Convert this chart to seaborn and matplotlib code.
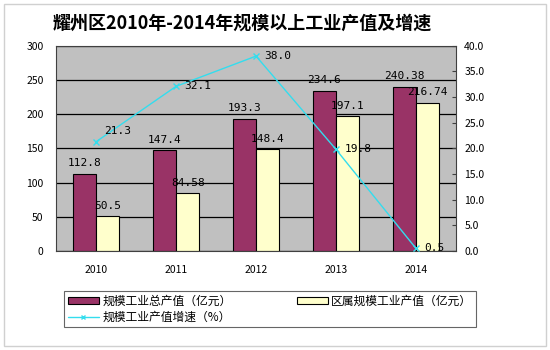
import pandas as pd
import numpy as np
import matplotlib
matplotlib.use('Agg')
import matplotlib.pyplot as plt
import seaborn as sns
from matplotlib.patches import Rectangle
from matplotlib.lines import Line2D

# data
years = ['2010', '2011', '2012', '2013', '2014']
total_output = [112.8, 147.4, 193.3, 234.6, 240.38]
district_output = [50.5, 84.58, 148.4, 197.1, 216.74]
growth_rate = [21.3, 32.1, 38.0, 19.8, 0.5]
total_labels = ['112.8', '147.4', '193.3', '234.6', '240.38']
district_labels = ['50.5', '84.58', '148.4', '197.1', '216.74']
growth_labels = ['21.3', '32.1', '38.0', '19.8', '0.5']

s_total = '规模工业总产值（亿元）'
s_district = '区属规模工业产值（亿元）'
s_growth = '规模工业产值增速（%）'

sns.set_style('white')
plt.rcParams['font.family'] = ['Noto Sans CJK SC', 'DejaVu Sans']
plt.rcParams['text.color'] = 'black'
plt.rcParams['xtick.color'] = 'black'
plt.rcParams['ytick.color'] = 'black'

df = pd.DataFrame({
    'year': years * 2,
    'value': total_output + district_output,
    'series': [s_total] * 5 + [s_district] * 5,
})

fig = plt.figure(figsize=(5.5, 3.5), dpi=100)
ax = fig.add_axes([0.102, 0.283, 0.727, 0.586])
ax.set_facecolor('#C0C0C0')

sns.barplot(data=df, x='year', y='value', hue='series',
            palette=['#993366', '#FFFFCC'], width=0.58, saturation=1,
            edgecolor='black', linewidth=0.8, ax=ax, legend=False)

ax.set_ylim(0, 300)
ax.set_yticks(np.arange(0, 301, 50))
ax.set_xlim(-0.5, 4.5)
ax.yaxis.grid(True, color='black', linewidth=0.9)
ax.set_axisbelow(True)
ax.set_xlabel('')
ax.set_ylabel('')
for sp in ax.spines.values():
    sp.set_color('#404040')
    sp.set_linewidth(0.8)
ax.tick_params(axis='y', length=0, labelsize=7.5, pad=9)
ax.tick_params(axis='x', length=0, labelsize=7.5, pad=10)
ax.set_xticks(np.arange(-0.5, 4.6, 1.0), minor=True)
ax.tick_params(axis='x', which='minor', length=3, direction='in', color='#404040')

# bar labels
for i, c in enumerate(ax.containers):
    labels = total_labels if i == 0 else district_labels
    ax.bar_label(c, labels=labels, padding=4, fontsize=8,
                 family='DejaVu Sans Mono', color='black')

# growth rate on secondary axis
ax2 = ax.twinx()
x = np.arange(len(years))
sns.lineplot(x=x, y=growth_rate, ax=ax2, color='#33DDEE', linewidth=1,
             marker='x', markersize=4, markeredgecolor='#33DDEE',
             markeredgewidth=1)
ax2.set_ylim(0, 40)
ax2.set_yticks(np.arange(0, 40.1, 5))
ax2.set_yticklabels([f'{v:.1f}' for v in np.arange(0, 40.1, 5)])
ax2.tick_params(axis='y', direction='in', length=3, labelsize=7.5, pad=6,
                color='#404040')
for sp in ax2.spines.values():
    sp.set_visible(False)
for xi, yi, lab in zip(x, growth_rate, growth_labels):
    dy = 8 if lab == '21.3' else 0
    ax2.annotate(lab, (xi, yi), xytext=(6, dy), textcoords='offset points',
                 ha='left', va='center', fontsize=8, family='DejaVu Sans Mono',
                 color='black')

fig.text(0.44, 0.935, '耀州区2010年-2014年规模以上工业产值及增速',
         ha='center', va='center', fontsize=13, fontweight='bold')

# legend
handles = [
    Rectangle((0, 0), 1, 1, facecolor='#993366', edgecolor='black', linewidth=0.8),
    Line2D([], [], color='#33DDEE', marker='x', markersize=3, linewidth=1),
    Rectangle((0, 0), 1, 1, facecolor='#FFFFCC', edgecolor='black', linewidth=0.8),
]
leg = fig.legend(handles, [s_total, s_growth, s_district], ncol=2,
                 loc='upper left', bbox_to_anchor=(0.116, 0.057, 0.75, 0.112),
                 mode='expand', fontsize=8.5, frameon=True, fancybox=False,
                 handlelength=2.6, handleheight=0.5, borderpad=0.35,
                 labelspacing=0.2, handletextpad=0.3, borderaxespad=0)
leg.get_frame().set_edgecolor('#404040')
leg.get_frame().set_linewidth(0.8)

fig.patches.append(Rectangle((0.008, 0.012), 0.984, 0.976, transform=fig.transFigure,
                             fill=False, edgecolor='#D0D0D0', linewidth=1))

fig.savefig('out.png', dpi=100)
